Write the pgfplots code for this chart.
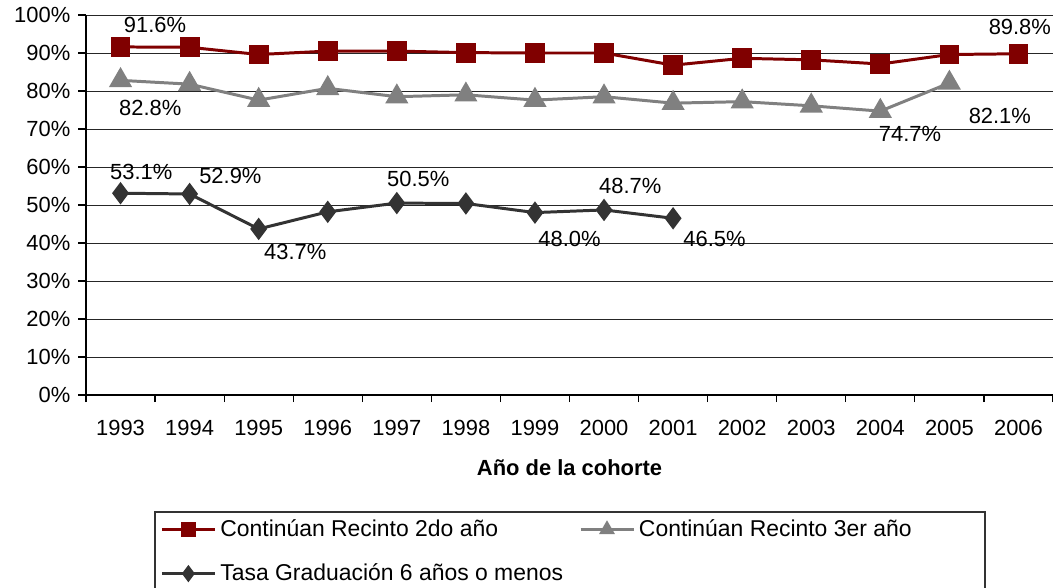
\documentclass[border=0pt]{standalone}
\usepackage{pgfplots}
\pgfplotsset{compat=1.18}
\usepackage{fontspec}
\setmainfont{Liberation Sans}
\definecolor{rojo}{HTML}{800000}
\definecolor{gris}{HTML}{808080}
\definecolor{oscuro}{HTML}{333333}

\begin{document}
\fontsize{11}{13}\selectfont
\begin{tikzpicture}
\begin{axis}[
  scale only axis,
  width=483.5bp, height=190bp,
  xmin=-0.5, xmax=13.5,
  ymin=0, ymax=100,
  axis x line=bottom, axis y line=left,
  axis line style={-, black, line width=0.8pt},
  xtick={0,...,13},
  xticklabels={1993,1994,1995,1996,1997,1998,1999,2000,2001,2002,2003,2004,2005,2006},
  minor xtick={-0.5,0.5,...,13.5},
  major x tick style={draw=none},
  minor x tick style={black, line width=0.6pt},
  tick align=outside,
  minor tick length=3.5bp,
  major tick length=4bp,
  ytick={0,10,...,100},
  yticklabel={\pgfmathprintnumber{\tick}\%},
  ymajorgrids,
  major grid style={black!85, line width=0.5pt},
  y tick style={black, line width=0.6pt},
  /pgf/number format/assume math mode=true,
  tick label style={font=\fontsize{11}{13}\selectfont},
  xticklabel style={yshift=-4.5bp},
  xlabel={\textbf{Año de la cohorte}},
  xlabel style={at={(rel axis cs:0.5,0)}, anchor=center, yshift=-36.5bp, font=\fontsize{11}{13}\selectfont},
  clip=false,
  legend columns=2,
  legend cell align=left,
  legend image code/.code={\draw[mark repeat=2,mark phase=2,#1] plot coordinates {(0bp,0bp)(13.25bp,0bp)(26.5bp,0bp)};},
  legend image post style={mark size=3.1bp},
  legend style={at={(rel axis cs:0,0)}, anchor=north west, xshift=37bp, yshift=-60bp,
    draw=none, fill=none, inner sep=0pt,
    row sep=8bp,
    font=\fontsize{11.5}{13.5}\selectfont,
    /tikz/every even column/.append style={column sep=6bp}},
]
\addplot[rojo, line width=1.5pt, mark=square*, mark size=4.2bp, mark options={solid}] coordinates {
  (0,91.6) (1,91.5) (2,89.6) (3,90.5) (4,90.5) (5,90.1) (6,90.0) (7,90.0)
  (8,86.8) (9,88.6) (10,88.2) (11,87.1) (12,89.6) (13,89.8)};
\addlegendentry{Continúan Recinto 2do año}
\addplot[gris, line width=1.5pt, mark=triangle*, mark size=5.2bp, mark options={solid}] coordinates {
  (0,82.8) (1,81.8) (2,77.6) (3,80.7) (4,78.5) (5,79.0) (6,77.6) (7,78.5)
  (8,76.8) (9,77.2) (10,76.1) (11,74.7) (12,82.1)};
\addlegendentry{Continúan Recinto 3er año}
\addplot[oscuro, line width=1.5pt, mark=diamond*, mark size=4.4bp, mark options={solid}] coordinates {
  (0,53.1) (1,52.9) (2,43.7) (3,48.2) (4,50.5) (5,50.4) (6,48.0) (7,48.7) (8,46.5)};
\addlegendentry{Tasa Graduación 6 años o menos}

\node at (axis cs:0.5,97.4) {91.6\%};
\node at (axis cs:13.02,96.9) {89.8\%};
\node at (axis cs:0.43,75.5) {82.8\%};
\node at (axis cs:11.43,68.7) {74.7\%};
\node at (axis cs:12.73,73.4) {82.1\%};
\node at (axis cs:0.30,58.8) {53.1\%};
\node at (axis cs:1.59,57.6) {52.9\%};
\node at (axis cs:2.53,37.7) {43.7\%};
\node at (axis cs:4.31,56.8) {50.5\%};
\node at (axis cs:7.38,55.0) {48.7\%};
\node at (axis cs:6.50,41.0) {48.0\%};
\node at (axis cs:8.60,41.0) {46.5\%};
\end{axis}
\draw[black!80, line width=0.6pt] (34.5bp,-58.5bp) rectangle (449.5bp,-112bp);
\pgfresetboundingbox
\useasboundingbox (-43bp,-96.5bp) rectangle (483.5bp,197.5bp);
\end{tikzpicture}
\end{document}
